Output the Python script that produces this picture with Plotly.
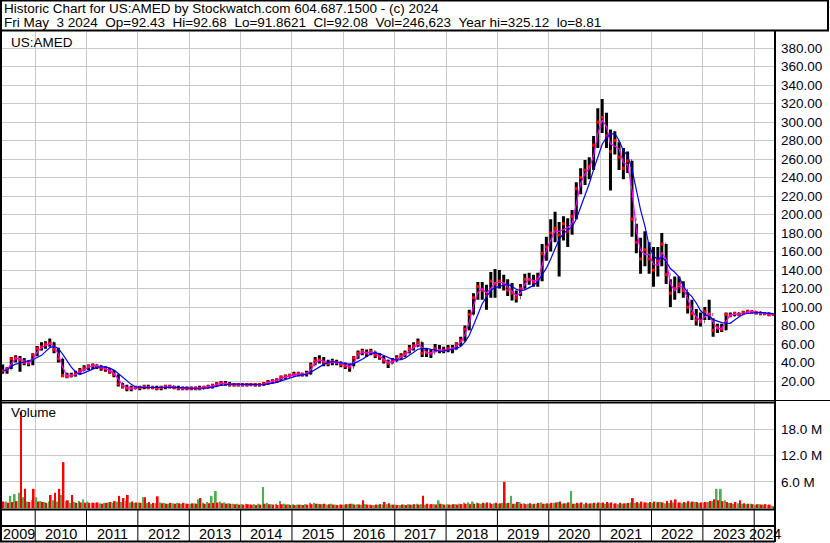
import pandas as pd
import plotly.graph_objects as go

W, H = 830, 543
FONT = "Arial, 'Liberation Sans', sans-serif"
GRID = "#c8c8c8"

HEADER_1 = "Historic Chart for US:AMED by Stockwatch.com 604.687.1500 - (c) 2024"
HEADER_2 = "Fri May  3 2024  Op=92.43  Hi=92.68  Lo=91.8621  Cl=92.08  Vol=246,623  Year hi=325.12  lo=8.81"

# monthly bars, May 2009 .. May 2024
high = [
    38, 35, 46, 48, 47, 45, 42, 50,                                   # 2009
    58, 62, 63, 66, 62, 56, 44, 29, 29, 31, 34, 37,                   # 2010
    38, 39, 38, 37, 36, 34, 32, 27, 18, 16, 15, 15,                   # 2011
    15, 16, 16, 15, 15, 15, 16, 16, 15, 15, 14, 14,                   # 2012
    14, 14, 15, 15, 16, 17, 19, 20, 20, 19, 18, 18,                   # 2013
    18, 18, 18, 18, 18, 19, 21, 22, 23, 26, 27, 28,                   # 2014
    30, 30, 29, 31, 40, 46, 48, 46, 43, 44, 43, 41,                   # 2015
    40, 39, 47, 53, 55, 54, 55, 52, 50, 47, 43, 45,                   # 2016
    48, 50, 53, 59, 62, 66, 62, 55, 54, 60, 59, 57,                   # 2017
    59, 59, 62, 68, 80, 97, 115, 127, 127, 124, 138, 141,             # 2018
    140, 135, 130, 126, 118, 125, 136, 137, 135, 137, 168, 176,       # 2019
    195, 203, 192, 198, 196, 205, 235, 250, 259, 262, 285, 315,       # 2020
    325, 310, 292, 290, 278, 272, 268, 258, 190, 175, 182, 170,       # 2021
    165, 165, 180, 168, 130, 133, 133, 128, 116, 108, 98, 94,         # 2022
    100, 108, 88, 82, 82, 94, 94, 95, 94, 96, 97, 96,                 # 2023
    95, 95, 94, 94, 93,                                               # 2024
]
low = [
    28, 28, 33, 40, 30, 37, 36, 37,
    47, 53, 55, 57, 50, 40, 24, 23, 24, 25, 27, 31,
    32, 33, 33, 31, 30, 28, 24, 14, 12, 9, 9, 11,
    10, 11, 11, 11, 10, 10, 11, 12, 11, 10, 10, 10,
    10, 10, 10, 11, 12, 12, 14, 15, 15, 14, 14, 14,
    14, 14, 15, 14, 14, 15, 16, 17, 18, 20, 22, 24,
    25, 25, 25, 25, 27, 37, 39, 36, 36, 37, 37, 35,
    33, 30, 36, 44, 48, 46, 48, 45, 43, 39, 34, 39,
    41, 43, 46, 50, 53, 57, 46, 46, 45, 51, 50, 50,
    51, 50, 54, 58, 63, 75, 92, 108, 108, 97, 110, 110,
    120, 118, 112, 107, 105, 112, 120, 124, 122, 122, 128, 150,
    160, 170, 133, 172, 165, 178, 195, 222, 232, 238, 248, 272,
    288, 272, 226, 265, 248, 238, 245, 176, 158, 136, 144, 136,
    122, 133, 144, 125, 100, 108, 115, 110, 93, 86, 80, 79,
    86, 86, 68, 72, 73, 75, 89, 90, 90, 92, 93, 93,
    92, 91, 91, 90, 91,
]
close = [
    31, 33, 44, 45, 43, 40, 39, 48,
    55, 57, 60, 61, 54, 44, 26, 25, 26, 28, 31, 34,
    36, 37, 36, 34, 33, 30, 27, 17, 14, 12, 12, 13,
    13, 14, 13, 13, 12, 13, 14, 14, 13, 12, 12, 12,
    12, 12, 12, 13, 14, 15, 17, 18, 17, 16, 16, 16,
    16, 16, 16, 16, 16, 17, 19, 20, 21, 24, 25, 26,
    27, 28, 27, 28, 37, 42, 43, 40, 39, 41, 40, 38,
    36, 35, 45, 50, 52, 50, 52, 48, 46, 42, 39, 42,
    45, 47, 50, 55, 58, 62, 50, 51, 50, 55, 53, 53,
    55, 55, 60, 64, 76, 92, 110, 122, 118, 112, 128, 125,
    128, 125, 118, 115, 110, 120, 130, 130, 127, 130, 158, 165,
    180, 185, 178, 190, 182, 198, 228, 240, 248, 252, 275, 300,
    305, 285, 268, 280, 262, 250, 258, 195, 170, 152, 162, 152,
    140, 150, 168, 135, 115, 120, 125, 118, 100, 93, 86, 84,
    95, 92, 75, 78, 76, 92, 91, 93, 92, 94, 95, 95,
    94, 93, 93, 92, 92,
]
# biggest up-day / down-day volume in each month, millions of shares
vol_up = [
    1.3, 1.5, 2.8, 3.2, 3.5, 2.5, 1.5, 1.8,
    2.5, 1.6, 1.4, 1.5, 1.8, 1.5, 3.0, 1.5, 1.2, 1.4, 1.6, 2.0,
    1.5, 1.3, 1.2, 1.1, 1.2, 1.3, 1.2, 1.5, 1.4, 1.6, 1.3, 1.2,
    1.3, 2.5, 1.2, 1.0, 1.1, 1.3, 1.2, 1.0, 1.1, 1.2, 1.0, 1.0,
    1.0, 1.1, 2.0, 1.2, 1.4, 2.8, 3.9, 1.5, 1.3, 1.1, 1.0, 1.0,
    0.9, 1.0, 0.8, 0.9, 1.0, 4.8, 1.2, 0.9, 1.0, 1.6, 1.0, 0.9,
    0.9, 0.8, 0.8, 0.9, 1.2, 1.2, 1.0, 0.9, 0.8, 1.0, 0.8, 0.8,
    0.8, 0.9, 1.0, 0.9, 0.8, 0.9, 0.8, 0.7, 0.8, 0.8, 0.9, 0.8,
    0.8, 0.7, 0.8, 0.9, 0.8, 1.0, 0.9, 0.8, 0.8, 0.9, 1.8, 0.9,
    0.9, 0.8, 0.9, 1.0, 1.2, 1.3, 1.5, 1.2, 1.0, 1.1, 1.2, 1.1,
    1.0, 1.2, 1.1, 2.8, 1.0, 1.4, 1.1, 1.0, 0.9, 1.0, 1.3, 1.0,
    1.0, 1.2, 1.4, 1.0, 1.1, 3.9, 1.0, 1.1, 0.9, 1.0, 1.1, 1.0,
    1.2, 1.0, 1.1, 1.0, 0.9, 1.0, 1.1, 1.3, 1.2, 1.1, 1.3, 1.2,
    1.2, 1.3, 1.4, 1.1, 1.2, 1.3, 1.2, 1.1, 1.2, 1.3, 1.4, 1.2,
    1.3, 1.4, 1.6, 4.4, 4.4, 1.8, 1.2, 1.0, 1.1, 1.0, 0.9, 1.0,
    0.8, 0.9, 0.8, 0.7, 0.5,
]
vol_dn = [
    1.5, 1.2, 1.4, 1.6, 22.0, 4.4, 1.4, 4.4,
    1.5, 1.4, 1.2, 3.0, 3.5, 4.4, 10.5, 1.8, 3.0, 1.2, 1.3, 1.2,
    1.2, 1.2, 1.3, 1.0, 1.2, 1.4, 1.6, 2.8, 2.3, 3.0, 1.5, 1.3,
    1.2, 2.5, 1.4, 1.2, 2.7, 1.1, 1.0, 1.2, 1.0, 1.1, 1.2, 1.0,
    1.1, 1.0, 2.3, 1.0, 1.1, 1.2, 1.3, 1.1, 1.0, 1.0, 0.9, 0.8,
    0.8, 0.9, 0.8, 0.7, 0.8, 1.0, 0.9, 0.8, 0.7, 0.9, 0.8, 0.7,
    0.7, 0.8, 0.7, 0.8, 0.9, 1.0, 0.9, 1.0, 0.9, 0.8, 0.7, 0.8,
    0.9, 1.0, 0.8, 0.8, 1.8, 0.8, 0.7, 0.8, 0.9, 1.4, 1.1, 0.8,
    0.7, 0.8, 0.7, 0.8, 0.9, 0.8, 2.8, 1.0, 0.9, 0.8, 1.0, 0.8,
    0.8, 0.9, 0.8, 0.9, 1.0, 0.9, 1.0, 1.1, 1.2, 1.3, 1.0, 1.2,
    1.1, 6.0, 1.2, 1.0, 1.4, 1.0, 0.9, 1.1, 1.0, 1.2, 1.0, 1.1,
    1.2, 1.3, 1.5, 1.1, 1.3, 1.0, 1.2, 1.3, 1.2, 1.1, 1.2, 1.3,
    1.3, 1.4, 1.3, 1.1, 1.2, 1.1, 1.2, 2.3, 1.4, 1.5, 1.3, 1.4,
    1.5, 1.4, 1.3, 1.6, 1.8, 2.0, 1.3, 1.4, 1.6, 1.5, 1.4, 1.3,
    1.4, 1.6, 2.0, 1.8, 1.6, 1.4, 1.2, 1.4, 1.8, 1.1, 1.0, 0.9,
    0.9, 0.8, 0.9, 0.8, 0.4,
]

price_ticks = list(range(20, 381, 20))
vol_ticks = [6, 12, 18]
years = list(range(2009, 2025))

dates = pd.date_range("2009-05-15", periods=len(close), freq=pd.DateOffset(months=1))
opens = [close[0]] + close[:-1]
ma_short = pd.Series(close).rolling(2, min_periods=1).mean()
ma_long = pd.Series(close).rolling(5, min_periods=1).mean()

X0, X1 = pd.Timestamp("2009-05-10"), pd.Timestamp("2024-05-28")


def py(v):
    # pixel row -> paper y
    return 1 - v / H


def px(v):
    return v / W


fig = go.Figure()

fig.add_trace(go.Bar(x=dates, y=vol_up, marker=dict(color="#4caf50", line=dict(width=0)),
                     xaxis="x", yaxis="y2"))
fig.add_trace(go.Bar(x=dates, y=vol_dn, marker=dict(color="#ff0000", line=dict(width=0)),
                     xaxis="x", yaxis="y2"))

fig.add_trace(go.Ohlc(x=dates, open=opens, high=high, low=low, close=close,
                      increasing=dict(line=dict(color="black", width=3)),
                      decreasing=dict(line=dict(color="black", width=3)),
                      tickwidth=0.15, xaxis="x", yaxis="y"))
fig.add_trace(go.Scatter(x=dates, y=close, mode="markers",
                         marker=dict(symbol="square", size=3, color="#ff0000"),
                         xaxis="x", yaxis="y"))
fig.add_trace(go.Scatter(x=dates, y=ma_short, mode="lines",
                         line=dict(color="#ff00ff", width=1.2), xaxis="x", yaxis="y"))
fig.add_trace(go.Scatter(x=dates, y=ma_long, mode="lines",
                         line=dict(color="#0000ff", width=1.2), xaxis="x", yaxis="y"))

year_starts = [f"{y}-01-01" for y in years[1:]]

shapes = []
line_k = dict(color="black", width=2)
# frame pieces
shapes.append(dict(type="rect", xref="paper", yref="paper", x0=px(1), x1=px(828),
                   y0=py(30.5), y1=py(0.5), line=line_k))
shapes.append(dict(type="line", xref="paper", yref="paper", x0=px(1), x1=px(1),
                   y0=py(30), y1=py(542), line=line_k))
shapes.append(dict(type="line", xref="paper", yref="paper", x0=px(775), x1=px(775),
                   y0=py(30), y1=py(542), line=line_k))
shapes.append(dict(type="line", xref="paper", yref="paper", x0=0, x1=1,
                   y0=py(400.5), y1=py(400.5), line=dict(color="black", width=1)))
for yy in (402.5, 509.5, 526, 541.5):
    shapes.append(dict(type="line", xref="paper", yref="paper", x0=0, x1=px(775),
                       y0=py(yy), y1=py(yy), line=line_k))
for ys in year_starts:
    shapes.append(dict(type="line", xref="x", yref="paper", x0=ys, x1=ys,
                       y0=py(510), y1=py(541), line=dict(color="black", width=1)))

annotations = [
    dict(text=HEADER_1.replace(" ", "\u00a0"), x=px(2), y=py(9)),
    dict(text=HEADER_2.replace(" ", "\u00a0"), x=px(2), y=py(22)),
    dict(text="US:AMED", x=px(9), y=py(42)),
    dict(text="Volume", x=px(9), y=py(413)),
]
for a in annotations:
    a.update(xref="paper", yref="paper", xanchor="left", yanchor="middle", showarrow=False,
             font=dict(size=13.5, color="black", family=FONT))

for yr in years:
    a = max(pd.Timestamp(f"{yr}-01-01"), X0)
    b = min(pd.Timestamp(f"{yr + 1}-01-01"), X1)
    annotations.append(dict(text=str(yr), x=a + (b - a) / 2, y=py(534), xref="x", yref="paper",
                            xanchor="center", yanchor="middle", showarrow=False,
                            font=dict(size=14.5, color="black", family=FONT)))

fig.update_layout(
    width=W, height=H,
    margin=dict(l=0, r=0, t=0, b=0),
    paper_bgcolor="white", plot_bgcolor="white",
    showlegend=False,
    barmode="group", bargap=0.1, bargroupgap=0,
    font=dict(family=FONT, size=13, color="black"),
    xaxis=dict(domain=[px(2), px(775)], range=[X0, X1], type="date", anchor="y2",
               tickvals=year_starts, showticklabels=False, ticks="",
               showgrid=True, gridcolor=GRID, gridwidth=1, zeroline=False,
               rangeslider=dict(visible=False)),
    yaxis=dict(domain=[py(400), py(32)], range=[-0.5, 397.3], side="right", anchor="x",
               tickvals=price_ticks, ticktext=[f"{v:.2f}" for v in price_ticks],
               ticks="", ticklabelstandoff=5, showgrid=True, gridcolor=GRID, zeroline=False,
               tickfont=dict(size=13.5, color="#000020")),
    yaxis2=dict(domain=[py(509), py(403)], range=[-0.2, 24.0], side="right", anchor="x",
                tickvals=vol_ticks, ticktext=[f"{v:.1f} M" for v in vol_ticks],
                ticks="", ticklabelstandoff=5, showgrid=True, gridcolor=GRID, zeroline=False,
                tickfont=dict(size=13.5, color="#000020")),
    shapes=shapes,
    annotations=annotations,
)

fig.write_html("out.html", config={"displayModeBar": False},
               post_script="document.body.style.margin='0';")
